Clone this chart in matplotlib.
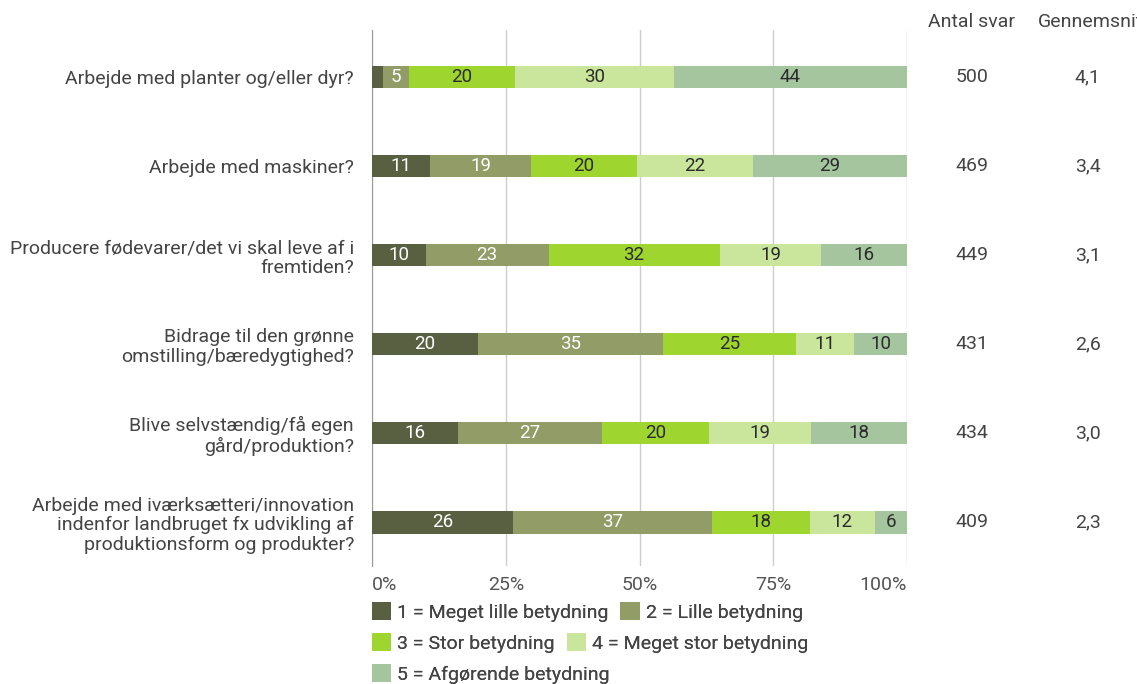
import numpy as np
import matplotlib.pyplot as plt
from matplotlib.transforms import blended_transform_factory

plt.rcParams["font.family"] = ["Roboto", "DejaVu Sans"]

# --------------------
# Data
# --------------------
questions = [
    "Arbejde med planter og/eller dyr?",
    "Arbejde med maskiner?",
    "Producere fødevarer/det vi skal leve af i\nfremtiden?",
    "Bidrage til den grønne\nomstilling/bæredygtighed?",
    "Blive selvstændig/få egen\ngård/produktion?",
    "Arbejde med iværksætteri/innovation\nindenfor landbruget fx udvikling af\nproduktionsform og produkter?",
]
levels = [
    "1 = Meget lille betydning",
    "2 = Lille betydning",
    "3 = Stor betydning",
    "4 = Meget stor betydning",
    "5 = Afgørende betydning",
]
meget_lille = [2, 11, 10, 20, 16, 26]
lille = [5, 19, 23, 35, 27, 37]
stor = [20, 20, 32, 25, 20, 18]
meget_stor = [30, 22, 19, 11, 19, 12]
afgoerende = [44, 29, 16, 10, 18, 6]
antal_svar = ["500", "469", "449", "431", "434", "409"]
gennemsnit = ["4,1", "3,4", "3,1", "2,6", "3,0", "2,3"]

colors = ["#596042", "#919c66", "#9fd52f", "#c9e69c", "#a4c59e"]
label_colors = ["white", "white", "#2b2b2b", "#2b2b2b", "#2b2b2b"]
text_color = "#444444"
FS = 14


def main():
    series = np.array([meget_lille, lille, stor, meget_stor, afgoerende], dtype=float)
    shares = series / series.sum(axis=0) * 100

    fig = plt.figure(figsize=(11.37, 6.84), dpi=100)
    ax = fig.add_axes([0.3272, 0.1725, 0.4705, 0.7835])

    y = np.arange(len(questions))
    left = np.zeros(len(questions))
    containers = []
    for i in range(5):
        bars = ax.barh(y, shares[i], left=left, height=0.25, color=colors[i],
                       label=levels[i], zorder=3)
        labels = [f"{int(v)}" if v >= 3 else "" for v in series[i]]
        ax.bar_label(bars, labels=labels, label_type="center", fontsize=13.5,
                     color=label_colors[i])
        containers.append(bars)
        left += shares[i]

    ax.set_ylim(5.49, -0.53)
    ax.set_xlim(0, 100)
    ax.set_yticks(y)
    ax.set_yticklabels(questions, fontsize=FS, color=text_color, linespacing=1.1)
    ax.set_xticks([0, 25, 50, 75, 100])
    xt = ax.set_xticklabels(["0%", "25%", "50%", "75%", "100%"], fontsize=FS,
                            color="#555555")
    xt[0].set_ha("left")
    xt[-1].set_ha("right")
    ax.tick_params(axis="both", length=0, pad=7)
    ax.tick_params(axis="y", pad=13)
    ax.grid(axis="x", color="#cccccc", linewidth=1, zorder=0)
    for side in ["top", "right", "bottom"]:
        ax.spines[side].set_visible(False)
    ax.spines["left"].set_color("#999999")

    # Extra columns on the right
    trans = blended_transform_factory(ax.transAxes, ax.transData)
    ax.text(1.1215, -0.62, "Antal svar", transform=trans, ha="center", va="center",
            fontsize=FS, color=text_color)
    ax.text(1.245, -0.62, "Gennemsnit", transform=trans, ha="left", va="center",
            fontsize=FS, color=text_color, clip_on=False)
    for i in range(len(questions)):
        ax.text(1.1215, i, antal_svar[i], transform=trans, ha="center", va="center",
                fontsize=FS, color=text_color)
        ax.text(1.338, i, gennemsnit[i], transform=trans, ha="center", va="center",
                fontsize=FS, color=text_color)

    # Legend in three rows
    rows = [[0, 1], [2, 3], [4]]
    row_y = [1 - 612 / 684, 1 - 643 / 684, 1 - 674 / 684]
    for r, idx in enumerate(rows):
        leg = fig.legend([containers[k] for k in idx], [levels[k] for k in idx],
                         loc="center left", bbox_to_anchor=(0.3272, row_y[r]),
                         ncol=len(idx), frameon=False, fontsize=FS,
                         handlelength=1.0, handleheight=1.0, handletextpad=0.3,
                         columnspacing=0.6, borderpad=0, borderaxespad=0)
        for t in leg.get_texts():
            t.set_color(text_color)
        fig.add_artist(leg)

    fig.savefig("out.png", dpi=100)
    plt.close(fig)


if __name__ == "__main__":
    main()
